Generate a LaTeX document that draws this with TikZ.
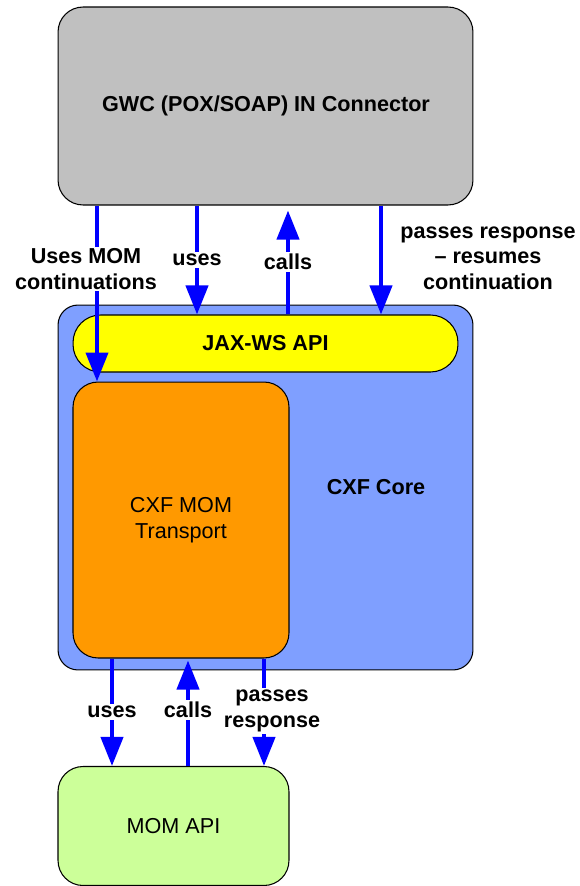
\documentclass[tikz,border=0pt]{standalone}
\usepackage{fontspec}
\setmainfont{Liberation Sans}
\usetikzlibrary{arrows.meta}
\usetikzlibrary{positioning}

\definecolor{gwcgray}{HTML}{C0C0C0}
\definecolor{coreblue}{HTML}{7F9FFF}
\definecolor{jaxyellow}{HTML}{FFFF00}
\definecolor{momorange}{HTML}{FF9900}
\definecolor{apigreen}{HTML}{CCFF99}
\definecolor{flowblue}{HTML}{0000FF}

\begin{document}
\begin{tikzpicture}[x=0.02cm,y=-0.02cm,
    every node/.style={font=\fontsize{12.3}{14.5}\selectfont},
    box/.style={draw=black,line width=0.6pt,rounded corners=0.5cm,inner sep=0pt},
    flow/.style={draw=flowblue,line width=2.3pt,-{Triangle[length=0.58cm,width=0.44cm]}},
    lbl/.style={font=\fontsize{12.3}{14.5}\selectfont\bfseries,align=center,inner sep=1pt},
    lblw/.style={lbl,fill=white}]
  \useasboundingbox (0,0) rectangle (580,886);
          % boxes
          \node[box,fill=gwcgray,minimum width=8.3cm,minimum height=3.96cm] (gwc) at (265.5,106) {};
          \node[lbl] (gwclbl) at (266,106) {GWC (POX/SOAP) IN Connector};
          \node[box,fill=coreblue,rounded corners=0.4cm,minimum width=8.3cm,minimum height=7.3cm] (core) at (265.5,487.5) {};
          \node[lbl] (corelbl) at (376,487) {CXF Core};
          \node[box,fill=jaxyellow,rounded corners=0.55cm,minimum width=7.7cm,minimum height=1.14cm] (jaxws) at (265.5,343.5) {};
          \node[lbl] (jaxlbl) at (jaxws.center) {JAX-WS API};
          \node[box,fill=momorange,minimum width=4.32cm,minimum height=5.52cm,align=center] (transport) at (181,520) {CXF MOM\\Transport};
          \node[box,fill=apigreen,minimum width=4.62cm,minimum height=2.38cm] (momapi) at (173.5,826) {MOM API};
          % top connectors
          \draw[flow] (gwc.south -| 97,0) -- (transport.north -| 97,0);
          \draw[flow] (gwc.south -| 197,0) -- (jaxws.north -| 197,0);
          \draw[flow] (jaxws.north -| 288,0) -- ([yshift=-0.1cm]gwc.south -| 288,0);
          \draw[flow] (gwc.south -| 381,0) -- (jaxws.north -| 381,0);
          \node[lblw] (contlbl) at (86,269) {Uses MOM\\continuations};
          \node[lblw] (useslbl) at (197,260) {uses};
          \node[lblw] (callslbl) at (288,262) {calls};
          \node[lbl] (resumelbl) at (488,258) {passes response\\– resumes\\continuation};
          % bottom connectors
          \draw[flow] (transport.south -| 112,0) -- (momapi.north -| 112,0);
          \draw[flow] (momapi.north -| 188,0) -- ([yshift=-0.04cm]transport.south -| 188,0);
          \draw[flow] (transport.south -| 264,0) -- (momapi.north -| 264,0);
          \node[lblw] (uses2lbl) at (112,712) {uses};
          \node[lblw] (calls2lbl) at (188,710) {calls};
          \node[lblw] (passlbl) at (272,711) {passes\\response};
        \end{tikzpicture}
\end{document}
